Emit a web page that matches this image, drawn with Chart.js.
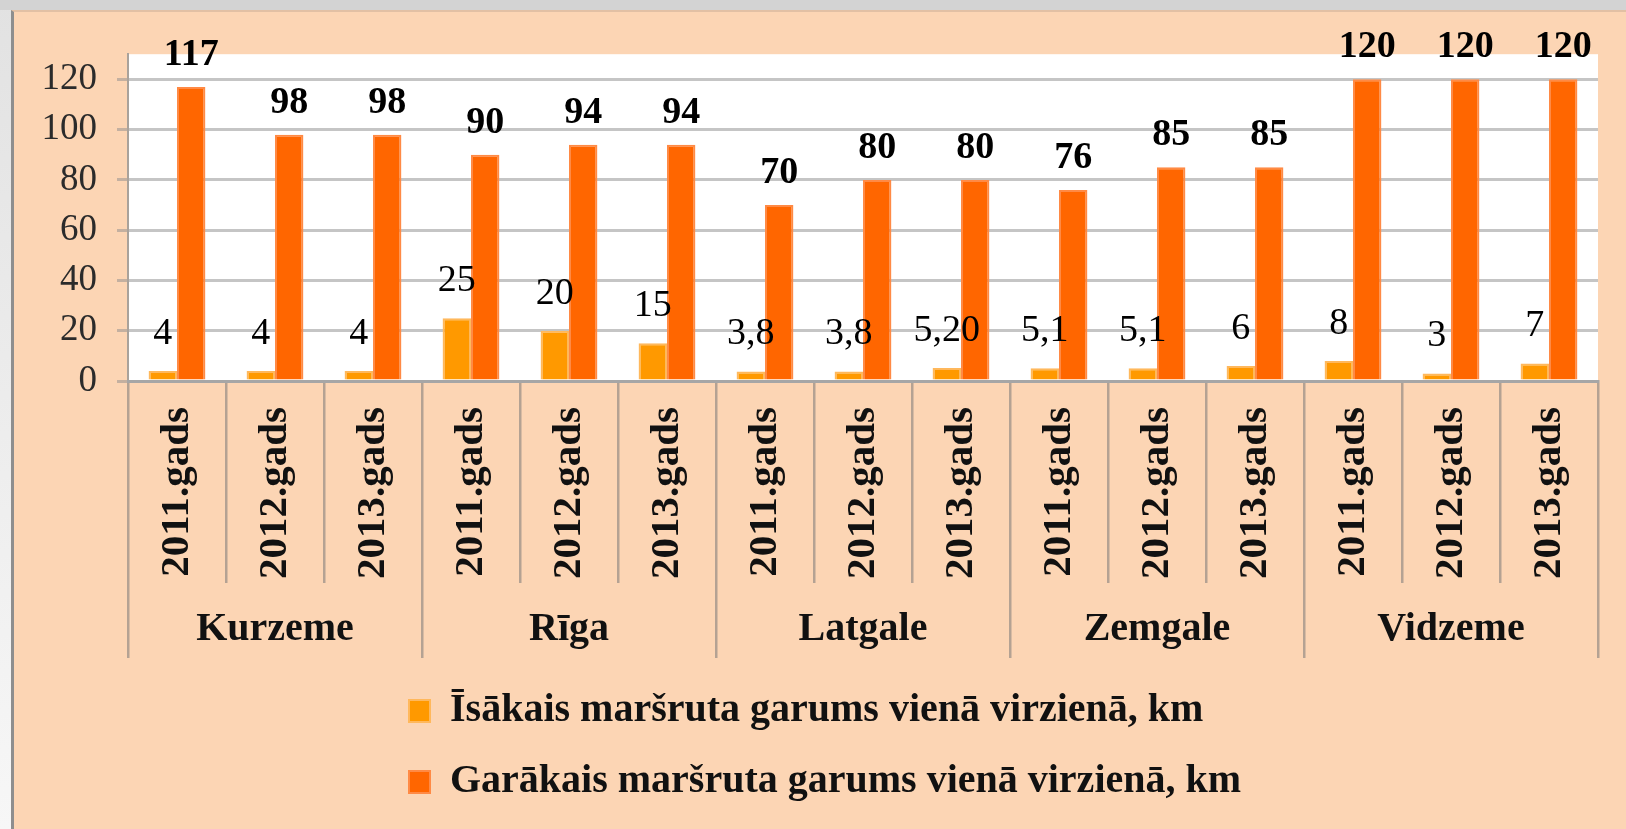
<!DOCTYPE html>
<html>
<head>
<meta charset="utf-8">
<script src="https://cdn.jsdelivr.net/npm/chart.js@4.4.1/dist/chart.umd.min.js"></script>
<style>
    html, body {
        margin: 0;
        width: 1626px;
        height: 829px;
        overflow: hidden;
        background:
            linear-gradient(#d3d3d3 0, #d3d3d3 10px, transparent 10px),
            linear-gradient(to bottom, #e2e2e2, #f7f7f7);
    }
    #frame {
        position: absolute;
        left: 11px;
        top: 10px;
        width: 1612px;
        height: 817px;
        border-left: 3px solid #8e8e8e;
        border-top: 2px solid #e2c0a4;
        background: #fcd5b4;
    }
    canvas { display: block; }
</style>
</head>
<body>
<div id="frame">
    <canvas id="routeChart" width="1612" height="817"></canvas>
</div>
<script>
// Years (inner axis) and regions (outer axis)
const years = [
    '2011.gads', '2012.gads', '2013.gads',
    '2011.gads', '2012.gads', '2013.gads',
    '2011.gads', '2012.gads', '2013.gads',
    '2011.gads', '2012.gads', '2013.gads',
    '2011.gads', '2012.gads', '2013.gads'
];
const regions = ['Kurzeme', 'Rīga', 'Latgale', 'Zemgale', 'Vidzeme'];

// Shortest route length, km
const shortest = [4, 4, 4, 25, 20, 15, 3.8, 3.8, 5.2, 5.1, 5.1, 6, 8, 3, 7];
const shortestLabels = ['4', '4', '4', '25', '20', '15', '3,8', '3,8', '5,20', '5,1', '5,1', '6', '8', '3', '7'];

// Longest route length, km
const longest = [117, 98, 98, 90, 94, 94, 70, 80, 80, 76, 85, 85, 120, 120, 120];

const yTicks = [0, 20, 40, 60, 80, 100, 120];

const FONT = "'Liberation Serif', 'Times New Roman', serif";
const SEP_COLOR = 'rgba(120, 120, 120, 0.55)';

// white plot background
const plotBackground = {
    id: 'plotBackground',
    beforeDraw(chart) {
        const a = chart.chartArea;
        const ctx = chart.ctx;
        ctx.save();
        ctx.fillStyle = '#ffffff';
        ctx.fillRect(a.left, a.top, a.right - a.left, a.bottom - a.top);
        ctx.restore();
    }
};

// value labels above the bars
const valueLabels = {
    id: 'valueLabels',
    afterDatasetsDraw(chart) {
        const ctx = chart.ctx;
        ctx.save();
        ctx.fillStyle = '#000000';
        ctx.textAlign = 'center';
        ctx.textBaseline = 'alphabetic';

        chart.getDatasetMeta(0).data.forEach((bar, i) => {
            ctx.font = `38px ${FONT}`;
            ctx.fillText(shortestLabels[i], bar.x, bar.y - 27);
        });
        chart.getDatasetMeta(1).data.forEach((bar, i) => {
            ctx.font = `bold 38px ${FONT}`;
            ctx.fillText(String(longest[i]), bar.x, bar.y - 22);
        });
        ctx.restore();
    }
};

// legend sits left-aligned under the middle of the chart
const legendOffset = {
    id: 'legendOffset',
    afterLayout(chart) {
        if (chart.legend) chart.legend.left = 364;
    }
};

new Chart(document.getElementById('routeChart'), {
    type: 'bar',
    data: {
        labels: years,
        datasets: [
            {
                label: 'Īsākais maršruta garums vienā virzienā, km',
                data: shortest,
                backgroundColor: '#ff9900',
                borderColor: '#ffb85c',
                borderWidth: 2,
                borderSkipped: 'bottom'
            },
            {
                label: 'Garākais maršruta garums vienā virzienā, km',
                data: longest,
                backgroundColor: '#ff6600',
                borderColor: '#ff8a45',
                borderWidth: 2,
                borderSkipped: 'bottom'
            }
        ]
    },
    options: {
        responsive: false,
        animation: false,
        devicePixelRatio: 1,
        categoryPercentage: 0.58,
        barPercentage: 1,
        layout: {
            padding: { top: 40, right: 28, bottom: 17, left: 0 }
        },
        plugins: {
            tooltip: { enabled: false },
            legend: {
                position: 'bottom',
                align: 'start',
                labels: {
                    boxWidth: 21,
                    boxHeight: 22,
                    padding: 31,
                    color: '#111111',
                    font: { family: FONT, size: 40, weight: 'bold' }
                }
            }
        },
        scales: {
            y: {
                min: 0,
                max: 130,
                afterBuildTicks: s => { s.ticks = yTicks.map(v => ({ value: v })); },
                afterFit: s => { s.width = 114; },
                ticks: {
                    padding: 20,
                    color: '#2b2b2b',
                    font: { family: FONT, size: 37 }
                },
                grid: {
                    color: 'rgba(140, 140, 140, 0.5)',
                    lineWidth: 3,
                    tickLength: 11
                },
                border: { color: '#a9a29b', width: 2 }
            },
            x: {
                weight: 0,
                afterFit: s => { s.height = 202; },
                ticks: {
                    autoSkip: false,
                    minRotation: 90,
                    maxRotation: 90,
                    padding: -176,
                    color: '#111111',
                    font: { family: FONT, size: 41, weight: 'bold' }
                },
                grid: {
                    drawOnChartArea: false,
                    tickLength: 202,
                    color: SEP_COLOR,
                    lineWidth: 2.5
                },
                border: { color: '#a6a6a6', width: 3 }
            },
            x2: {
                type: 'category',
                labels: regions,
                position: 'bottom',
                weight: 1,
                offset: true,
                afterFit: s => { s.height = 77; },
                ticks: {
                    padding: -52,
                    color: '#111111',
                    font: { family: FONT, size: 40, weight: 'bold' }
                },
                grid: {
                    offset: true,
                    drawOnChartArea: false,
                    tickLength: 75,
                    color: SEP_COLOR,
                    lineWidth: 2.5
                },
                border: { display: false }
            }
        }
    },
    plugins: [plotBackground, valueLabels, legendOffset]
});
</script>
</body>
</html>
